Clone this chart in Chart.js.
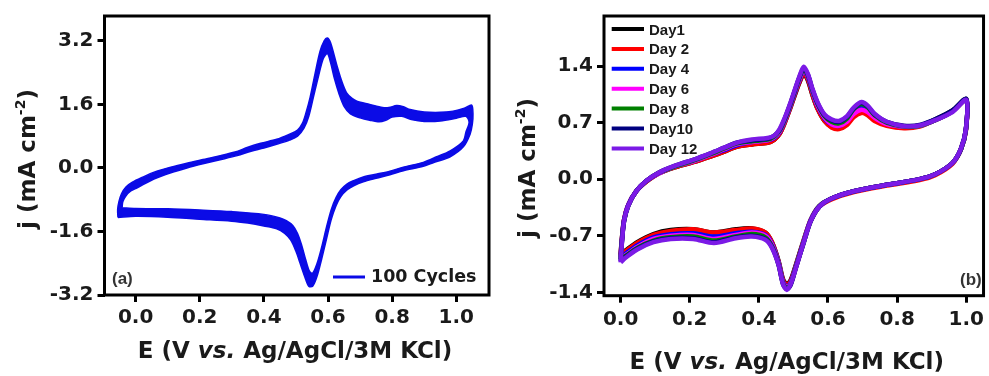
<!DOCTYPE html>
<html><head><meta charset="utf-8">
<script src="https://cdn.jsdelivr.net/npm/chart.js@4.4.1/dist/chart.umd.min.js"></script>
<style>
html,body{margin:0;padding:0;background:#fff;}
#wrap{position:relative;width:989px;height:376px;overflow:hidden;background:#fff;}
#ca{position:absolute;left:0;top:0;}
#cb{position:absolute;left:495px;top:0;}
</style></head><body>
<div id="wrap"><canvas id="ca" width="495" height="376"></canvas><canvas id="cb" width="494" height="376"></canvas></div>
<script>
// ---------- Panel (a): 100 cycles band (outer and inner envelope of the loops) ----------
const aOuterE = [-0.055,-0.056,-0.052,-0.044,-0.03,-0.01,0.02,0.06,0.11,0.16,0.21,0.26,0.31,0.35,0.39,0.44,0.48,0.505,0.52,0.53,0.544,0.559,0.575,0.588,0.598,0.608,0.627,0.643,0.658,0.675,0.69,0.73,0.77,0.79,0.814,0.835,0.856,0.9,0.95,0.99,1.025,1.048,1.052,1.05,1.043,1.022,0.981,0.939,0.897,0.835,0.793,0.75,0.71,0.68,0.66,0.64,0.625,0.61,0.595,0.58,0.565,0.552,0.54,0.528,0.513,0.5,0.484,0.465,0.44,0.4,0.35,0.3,0.2,0.1,0.0,-0.055];
const aOuterJ = [-1.25,-1.05,-0.85,-0.65,-0.48,-0.36,-0.24,-0.1,0.02,0.12,0.21,0.3,0.4,0.52,0.62,0.72,0.85,0.95,1.12,1.35,1.77,2.35,2.93,3.2,3.27,3.15,2.6,2.18,1.89,1.75,1.68,1.6,1.52,1.52,1.57,1.54,1.47,1.41,1.4,1.43,1.5,1.58,1.35,1.1,0.85,0.53,0.28,0.16,0.04,-0.07,-0.17,-0.26,-0.35,-0.45,-0.55,-0.72,-0.95,-1.3,-1.8,-2.3,-2.75,-2.98,-2.98,-2.75,-2.4,-2.1,-1.82,-1.65,-1.53,-1.46,-1.39,-1.34,-1.29,-1.24,-1.22,-1.25];
const aInnerE = [-0.042,-0.04,-0.03,-0.015,0.005,0.057,0.11,0.16,0.213,0.26,0.317,0.36,0.4,0.442,0.48,0.505,0.525,0.54,0.555,0.57,0.585,0.598,0.608,0.62,0.635,0.65,0.67,0.7,0.73,0.76,0.78,0.8,0.83,0.86,0.9,0.95,1.0,1.03,1.04,1.03,1.022,0.981,0.939,0.897,0.835,0.793,0.75,0.71,0.68,0.66,0.64,0.625,0.61,0.595,0.58,0.566,0.552,0.542,0.53,0.518,0.505,0.49,0.47,0.45,0.4,0.3,0.2,0.1,0.0,-0.042];
const aInnerJ = [-1.0,-0.85,-0.7,-0.58,-0.5,-0.28,-0.12,0.0,0.11,0.2,0.31,0.42,0.5,0.6,0.7,0.8,1.0,1.3,1.8,2.3,2.75,2.88,2.65,2.25,1.85,1.55,1.36,1.26,1.2,1.16,1.2,1.28,1.3,1.22,1.17,1.18,1.25,1.3,1.15,0.9,0.68,0.43,0.28,0.14,0.02,-0.085,-0.16,-0.23,-0.32,-0.4,-0.55,-0.75,-1.05,-1.5,-2.0,-2.4,-2.65,-2.6,-2.3,-1.95,-1.65,-1.45,-1.33,-1.26,-1.17,-1.1,-1.06,-1.03,-1.02,-1.0];
const aLabel = '100 Cycles';
const aXTicks = [0.0, 0.2, 0.4, 0.6, 0.8, 1.0];
const aYTicks = [-3.2, -1.6, 0.0, 1.6, 3.2];

// ---------- Panel (b): stability over days ----------
const bE = [0.0,0.004,0.01,0.022,0.045,0.075,0.11,0.16,0.21,0.26,0.3,0.335,0.38,0.425,0.445,0.46,0.475,0.49,0.505,0.518,0.53,0.542,0.555,0.57,0.59,0.61,0.632,0.655,0.675,0.697,0.715,0.735,0.77,0.82,0.865,0.91,0.96,1.0,
            0.999,0.985,0.96,0.91,0.865,0.77,0.675,0.61,0.575,0.55,0.53,0.507,0.492,0.481,0.47,0.457,0.438,0.419,0.38,0.333,0.27,0.21,0.145,0.095,0.048,0.015,0.0];
const day1  = [-0.93,-0.72,-0.5,-0.32,-0.15,-0.03,0.07,0.15,0.21,0.28,0.34,0.4,0.43,0.45,0.49,0.56,0.7,0.87,1.05,1.2,1.3,1.22,1.04,0.87,0.72,0.65,0.63,0.68,0.79,0.84,0.81,0.74,0.67,0.64,0.66,0.74,0.85,0.99,
               0.62,0.38,0.2,0.06,0.0,-0.07,-0.15,-0.24,-0.33,-0.5,-0.75,-1.06,-1.25,-1.3,-1.24,-1.01,-0.78,-0.66,-0.61,-0.62,-0.66,-0.62,-0.63,-0.68,-0.78,-0.88,-0.93];
const day2  = [-0.94,-0.73,-0.5,-0.32,-0.15,-0.03,0.07,0.15,0.21,0.28,0.34,0.4,0.43,0.45,0.49,0.56,0.7,0.87,1.06,1.21,1.31,1.23,1.05,0.87,0.72,0.64,0.62,0.67,0.77,0.82,0.79,0.72,0.66,0.63,0.65,0.73,0.84,0.98,
               0.6,0.37,0.19,0.05,-0.01,-0.08,-0.16,-0.25,-0.34,-0.51,-0.76,-1.07,-1.26,-1.31,-1.25,-1.02,-0.78,-0.66,-0.61,-0.63,-0.66,-0.62,-0.64,-0.69,-0.79,-0.89,-0.94];
const day4  = [-0.96,-0.74,-0.51,-0.32,-0.15,-0.02,0.07,0.16,0.22,0.3,0.36,0.42,0.46,0.48,0.51,0.58,0.72,0.89,1.08,1.23,1.34,1.26,1.08,0.9,0.75,0.68,0.66,0.72,0.83,0.88,0.85,0.77,0.69,0.65,0.66,0.73,0.84,0.98,
               0.61,0.37,0.2,0.06,0.0,-0.07,-0.15,-0.24,-0.34,-0.51,-0.77,-1.08,-1.28,-1.33,-1.27,-1.03,-0.8,-0.69,-0.65,-0.67,-0.71,-0.67,-0.68,-0.72,-0.82,-0.92,-0.96];
const day6  = [-0.97,-0.75,-0.51,-0.32,-0.15,-0.02,0.07,0.16,0.22,0.3,0.37,0.43,0.46,0.48,0.52,0.59,0.73,0.9,1.09,1.24,1.35,1.27,1.09,0.91,0.76,0.68,0.66,0.71,0.81,0.86,0.83,0.76,0.68,0.65,0.66,0.73,0.84,0.98,
               0.61,0.37,0.2,0.06,0.0,-0.07,-0.15,-0.24,-0.34,-0.51,-0.77,-1.09,-1.29,-1.34,-1.28,-1.04,-0.81,-0.7,-0.66,-0.69,-0.74,-0.69,-0.7,-0.74,-0.84,-0.94,-0.98];
const day8  = [-0.99,-0.76,-0.52,-0.33,-0.15,-0.02,0.08,0.16,0.23,0.31,0.38,0.44,0.47,0.49,0.53,0.6,0.74,0.91,1.1,1.26,1.36,1.28,1.1,0.93,0.78,0.71,0.69,0.75,0.87,0.93,0.89,0.79,0.7,0.65,0.66,0.73,0.84,0.98,
               0.61,0.37,0.2,0.06,0.0,-0.07,-0.15,-0.24,-0.34,-0.52,-0.78,-1.09,-1.3,-1.35,-1.29,-1.05,-0.83,-0.72,-0.68,-0.71,-0.76,-0.71,-0.72,-0.76,-0.85,-0.95,-1.0];
const day10 = [-1.01,-0.77,-0.52,-0.33,-0.15,-0.02,0.08,0.17,0.24,0.32,0.39,0.45,0.48,0.5,0.54,0.61,0.75,0.92,1.11,1.27,1.37,1.29,1.11,0.94,0.79,0.73,0.71,0.77,0.88,0.945,0.9,0.8,0.71,0.66,0.67,0.74,0.85,0.99,
               0.62,0.38,0.2,0.06,0.0,-0.07,-0.15,-0.24,-0.34,-0.52,-0.78,-1.1,-1.31,-1.36,-1.3,-1.06,-0.84,-0.74,-0.7,-0.72,-0.78,-0.73,-0.73,-0.77,-0.86,-0.96,-1.01];
const day12 = [-1.03,-0.78,-0.52,-0.33,-0.15,-0.02,0.08,0.17,0.24,0.32,0.39,0.45,0.49,0.51,0.54,0.62,0.76,0.93,1.12,1.28,1.39,1.3,1.12,0.95,0.8,0.74,0.72,0.78,0.89,0.955,0.91,0.81,0.71,0.655,0.665,0.73,0.83,0.98,
               0.62,0.38,0.2,0.06,0.0,-0.07,-0.15,-0.24,-0.34,-0.52,-0.78,-1.1,-1.3,-1.37,-1.3,-1.06,-0.85,-0.75,-0.71,-0.73,-0.79,-0.74,-0.74,-0.78,-0.87,-0.97,-1.03];
const bLabels = ['Day1', 'Day 2', 'Day 4', 'Day 6', 'Day 8', 'Day10', 'Day 12'];
const bSeries = [day1, day2, day4, day6, day8, day10, day12];
const bXTicks = [0.0, 0.2, 0.4, 0.6, 0.8, 1.0];
const bYTicks = [-1.4, -0.7, 0.0, 0.7, 1.4];

// ---------- styling ----------
const BLUE = '#0b0be6';
const bColors = ['#000000', '#ff0000', '#0000ff', '#ff00ff', '#008000', '#000080', '#7b1ae6'];
const FONT = '"DejaVu Sans", sans-serif';
const FONT2 = '"Liberation Sans", Arial, sans-serif';
const TXT = '#1a1a1a';

function framePlugin() {
  return { id: 'frame', afterDatasetsDraw(chart) {
    const {ctx, chartArea: a} = chart;
    ctx.save(); ctx.strokeStyle = '#000'; ctx.lineWidth = 3;
    ctx.strokeRect(a.left, a.top, a.right - a.left, a.bottom - a.top);
    ctx.restore();
  }};
}
function drawXTitle(ctx, cx, by, size) {
  const parts = [['E (V ', false], ['vs.', true], [' Ag/AgCl/3M KCl)', false]];
  const ws = []; let w = 0;
  for (const [t, it] of parts) { ctx.font = (it ? 'italic ' : '') + 'bold ' + size + 'px ' + FONT; const m = ctx.measureText(t).width; ws.push(m); w += m; }
  let x = cx - w / 2;
  ctx.fillStyle = TXT; ctx.textBaseline = 'alphabetic'; ctx.textAlign = 'left';
  parts.forEach(([t, it], i) => { ctx.font = (it ? 'italic ' : '') + 'bold ' + size + 'px ' + FONT; ctx.fillText(t, x, by); x += ws[i]; });
}
function drawYTitle(ctx, bx, cy, size) {
  ctx.save(); ctx.translate(bx, cy); ctx.rotate(-Math.PI / 2);
  const sup = Math.round(size * 0.6);
  const parts = [['j (mA cm', size, 0], ['-2', sup, -size * 0.42], [')', size, 0]];
  const ws = []; let w = 0;
  for (const [t, s] of parts) { ctx.font = 'bold ' + s + 'px ' + FONT; const m = ctx.measureText(t).width; ws.push(m); w += m; }
  let x = -w / 2;
  ctx.fillStyle = TXT; ctx.textBaseline = 'alphabetic'; ctx.textAlign = 'left';
  parts.forEach(([t, s, dy], i) => { ctx.font = 'bold ' + s + 'px ' + FONT; ctx.fillText(t, x, dy); x += ws[i]; });
  ctx.restore();
}
function tickFont() { return {family: FONT, size: 20, weight: 'bold'}; }
function makeScales(xT, yT, xmin, xmax, ymin, ymax, yWidth, xHeight, xPad, yPad) {
  const grid = {drawOnChartArea: false, drawTicks: true, tickLength: 7, tickWidth: 3, tickColor: '#000', color: '#000'};
  return {
    x: { type: 'linear', min: xmin, max: xmax,
      afterBuildTicks: s => { s.ticks = xT.map(v => ({value: v})); },
      afterFit: s => { s.height = xHeight; },
      border: {display: false}, grid: grid,
      ticks: {font: tickFont(), color: TXT, padding: xPad, maxRotation: 0, autoSkip: false, callback: v => Number(v).toFixed(1)} },
    y: { type: 'linear', min: ymin, max: ymax,
      afterBuildTicks: s => { s.ticks = yT.map(v => ({value: v})); },
      afterFit: s => { s.width = yWidth; },
      border: {display: false}, grid: grid,
      ticks: {font: tickFont(), color: TXT, padding: yPad, autoSkip: false, callback: v => Number(v).toFixed(1)} }
  };
}

// ---------- chart (a) ----------
const decoA = { id: 'decoA', afterDraw(chart) {
  const ctx = chart.ctx;
  drawXTitle(ctx, 295, 358, 23);
  drawYTitle(ctx, 35, 159, 23);
  const ds = chart.data.datasets[0];
  ctx.save();
  ctx.strokeStyle = ds.borderColor; ctx.lineWidth = 3;
  ctx.beginPath(); ctx.moveTo(333, 277); ctx.lineTo(365, 277); ctx.stroke();
  ctx.fillStyle = TXT; ctx.font = 'bold 17.5px ' + FONT; ctx.textBaseline = 'alphabetic'; ctx.textAlign = 'left';
  ctx.fillText(ds.label, 371, 282);
  ctx.fillStyle = '#333'; ctx.font = 'bold 17px ' + FONT2;
  ctx.fillText('(a)', 112, 284);
  ctx.restore();
}};
new Chart(document.getElementById('ca'), {
  type: 'line',
  data: { datasets: [
    { label: aLabel, data: aOuterE.map((e, i) => ({x: e, y: aOuterJ[i]})), borderColor: BLUE, backgroundColor: BLUE,
      borderWidth: 1.5, fill: 'shape', pointRadius: 0, tension: 0.3, order: 1 },
    { label: aLabel + ' (inner)', data: aInnerE.map((e, i) => ({x: e, y: aInnerJ[i]})), borderColor: BLUE, backgroundColor: '#ffffff',
      borderWidth: 1.5, fill: 'shape', pointRadius: 0, tension: 0.3, order: 0 }
  ]},
  options: {
    responsive: false, animation: false, devicePixelRatio: 1, events: [],
    layout: {padding: {top: 14, right: 6, left: 0, bottom: 0}},
    plugins: {legend: {display: false}, tooltip: {enabled: false}},
    scales: makeScales(aXTicks, aYTicks, -0.097, 1.102, -3.2, 3.825, 104.5, 81, 4, 4)
  },
  plugins: [framePlugin(), decoA]
});

// ---------- chart (b) ----------
const decoB = { id: 'decoB', afterDraw(chart) {
  const ctx = chart.ctx;
  drawXTitle(ctx, 291.7, 369, 23);
  drawYTitle(ctx, 39.5, 168, 23);
  ctx.save();
  chart.data.datasets.forEach((ds, i) => {
    const y = 29 + i * 19.9;
    ctx.strokeStyle = ds.borderColor; ctx.lineWidth = 4;
    ctx.beginPath(); ctx.moveTo(116.7, y); ctx.lineTo(149, y); ctx.stroke();
    ctx.fillStyle = TXT; ctx.font = 'bold 15px ' + FONT2; ctx.textBaseline = 'alphabetic'; ctx.textAlign = 'left';
    ctx.fillText(ds.label, 154, y + 5.5);
  });
  ctx.fillStyle = '#333'; ctx.font = 'bold 17px ' + FONT2;
  ctx.fillText('(b)', 465, 285);
  ctx.restore();
}};
new Chart(document.getElementById('cb'), {
  type: 'line',
  data: { datasets: bSeries.map((arr, i) => ({
    label: bLabels[i], data: bE.map((e, k) => ({x: e, y: arr[k]})), borderColor: bColors[i], backgroundColor: bColors[i],
    borderWidth: 4.5, fill: false, pointRadius: 0, tension: 0.3, order: bSeries.length - 1 - i
  }))},
  options: {
    responsive: false, animation: false, devicePixelRatio: 1, events: [],
    layout: {padding: {top: 15.7, right: 0.7, left: 0, bottom: 0}},
    plugins: {legend: {display: false}, tooltip: {enabled: false}},
    scales: makeScales(bXTicks, bYTicks, -0.048, 1.05, -1.442, 2.019, 109, 80.3, 5, 4)
  },
  plugins: [framePlugin(), decoB]
});
</script>
</body></html>
